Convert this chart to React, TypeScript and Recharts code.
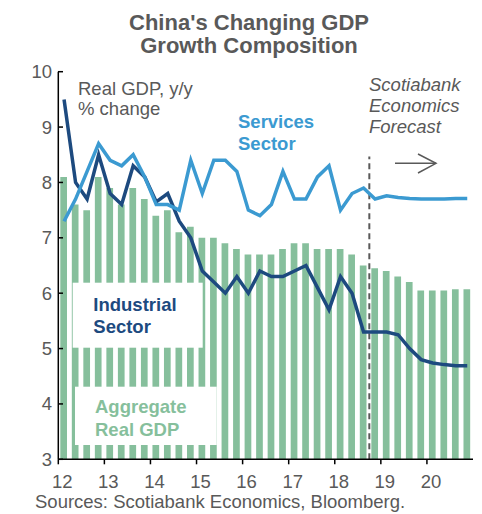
// China's changing GDP growth composition - bars for aggregate real GDP,
// lines for industrial and services sectors (quarterly, y/y % change)

import { ComposedChart, Bar, Line, XAxis, YAxis, ReferenceLine } from 'recharts';

const quarters = [
  '2012Q1', '2012Q2', '2012Q3', '2012Q4', '2013Q1', '2013Q2', '2013Q3', '2013Q4',
  '2014Q1', '2014Q2', '2014Q3', '2014Q4', '2015Q1', '2015Q2', '2015Q3', '2015Q4',
  '2016Q1', '2016Q2', '2016Q3', '2016Q4', '2017Q1', '2017Q2', '2017Q3', '2017Q4',
  '2018Q1', '2018Q2', '2018Q3', '2018Q4', '2019Q1', '2019Q2', '2019Q3', '2019Q4',
  '2020Q1', '2020Q2', '2020Q3', '2020Q4',
];

const realGdp = [
  8.1, 7.6, 7.5, 8.1, 7.9, 7.6, 7.9, 7.7,
  7.4, 7.5, 7.1, 7.2, 7.0, 7.0, 6.9, 6.8,
  6.7, 6.7, 6.7, 6.8, 6.9, 6.9, 6.8, 6.8,
  6.8, 6.7, 6.5, 6.45, 6.4, 6.3, 6.2, 6.05,
  6.05, 6.05, 6.07, 6.07,
];

const industrial = [
  9.5, 8.0, 7.7, 8.5, 7.8, 7.6, 8.3, 8.1,
  7.65, 7.8, 7.3, 7.0, 6.4, 6.2, 6.0, 6.3,
  6.0, 6.4, 6.3, 6.3, 6.4, 6.5, 6.1, 5.7,
  6.3, 6.0, 5.3, 5.3, 5.3, 5.25, 5.0, 4.8,
  4.74, 4.71, 4.69, 4.69,
];

const services = [
  7.3, 7.7, 8.2, 8.7, 8.4, 8.3, 8.5, 8.1,
  7.6, 7.6, 7.5, 8.4, 7.8, 8.4, 8.4, 8.2,
  7.5, 7.4, 7.6, 8.2, 7.7, 7.7, 8.1, 8.3,
  7.5, 7.8, 7.9, 7.7, 7.76, 7.73, 7.71, 7.7,
  7.7, 7.7, 7.71, 7.71,
];

const yearLabels = ['12', '13', '14', '15', '16', '17', '18', '19', '20'];
const yTicks = [3, 4, 5, 6, 7, 8, 9, 10];

// forecast begins after 2018Q3
const forecastStart = 26.5;

const chartData = quarters.map((q, i) => ({
  q,
  i,
  gdp: realGdp[i],
  industrial: industrial[i],
  services: services[i],
}));

// year ticks sit on the boundary before each Q1
const xTicks = yearLabels.map((_, k) => k * 4 - 0.5);

const FONT = '"Liberation Sans", Arial, sans-serif';
const GRAY = '#595959';
const GREEN = '#86BF9C';
const NAVY = '#1D4A7F';
const LIGHT = '#3B9AD1';

const XTick = (props: any) => {
  const { x, payload } = props;
  const k = Math.round((payload.value + 0.5) / 4);
  return (
    <text x={x + 4} y={488} textAnchor="middle" fontSize={18.5} fill={GRAY} fontFamily={FONT}>
      {yearLabels[k]}
    </text>
  );
};

const YTick = (props: any) => {
  const { y, payload } = props;
  return (
    <g>
      <line x1={58} x2={63} y1={y} y2={y} stroke="#000" strokeWidth={1.5} />
      <text x={52} y={y} dy={6.5} textAnchor="end" fontSize={18.5} fill={GRAY} fontFamily={FONT}>
        {payload.value}
      </text>
    </g>
  );
};

export default function App() {
  return (
    <div style={{ position: 'absolute', left: 0, top: 0, width: 482, height: 514, background: '#fff', fontFamily: FONT }}>
      <ComposedChart
        width={482}
        height={514}
        data={chartData}
        margin={{ top: 71.7, right: 9, bottom: 24.7, left: 0 }}
      >
        <XAxis
          dataKey="i"
          type="number"
          domain={[-0.5, 35.5]}
          ticks={xTicks}
          interval={0}
          height={30}
          tickSize={5}
          axisLine={{ stroke: '#000', strokeWidth: 1.5 }}
          tickLine={{ stroke: '#000', strokeWidth: 1.5 }}
          tick={<XTick />}
        />
        <YAxis
          type="number"
          domain={[3, 10]}
          ticks={yTicks}
          interval={0}
          width={58.3}
          tickLine={false}
          axisLine={{ stroke: '#000', strokeWidth: 1.5 }}
          tick={<YTick />}
        />
        <Bar dataKey="gdp" fill={GREEN} barSize={6.7} isAnimationActive={false} />
        <ReferenceLine
          segment={[{ x: forecastStart, y: 3 }, { x: forecastStart, y: 8.47 }]}
          stroke={GRAY}
          strokeWidth={2}
          strokeDasharray="6 4"
        />
        <Line
          dataKey="industrial"
          stroke={NAVY}
          strokeWidth={3.5}
          dot={false}
          type="linear"
          isAnimationActive={false}
        />
        <Line
          dataKey="services"
          stroke={LIGHT}
          strokeWidth={3.5}
          dot={false}
          type="linear"
          isAnimationActive={false}
        />
      </ComposedChart>

      <svg
        width={482}
        height={514}
        style={{ position: 'absolute', left: 0, top: 0, pointerEvents: 'none' }}
        fontFamily={FONT}
      >
        <text x={249} y={29.5} textAnchor="middle" fontSize={22} fontWeight="bold" fill={GRAY}>
          China's Changing GDP
        </text>
        <text x={249} y={52.5} textAnchor="middle" fontSize={22} fontWeight="bold" fill={GRAY}>
          Growth Composition
        </text>

        <text x={78} y={94.5} fontSize={18.5} fill={GRAY}>Real GDP, y/y</text>
        <text x={78} y={115} fontSize={18.5} fill={GRAY}>% change</text>

        <text x={238} y={127.6} fontSize={18.5} fontWeight="bold" fill={LIGHT}>Services</text>
        <text x={238} y={149.6} fontSize={18.5} fontWeight="bold" fill={LIGHT}>Sector</text>

        <text x={369} y={90.6} fontSize={18.5} fontStyle="italic" fill={GRAY}>Scotiabank</text>
        <text x={369} y={111.6} fontSize={18.5} fontStyle="italic" fill={GRAY}>Economics</text>
        <text x={369} y={132.6} fontSize={18.5} fontStyle="italic" fill={GRAY}>Forecast</text>

        <line x1={395} x2={436} y1={163.3} y2={163.3} stroke={GRAY} strokeWidth={1.5} />
        <polyline points="418,154 436,163.3 418,173" fill="none" stroke={GRAY} strokeWidth={1.5} />

        <rect x={72.7} y={282.7} width={130} height={65} fill="#fff" />
        <text x={93.3} y={310.7} fontSize={18.5} fontWeight="bold" fill={NAVY}>Industrial</text>
        <text x={93.3} y={332.7} fontSize={18.5} fontWeight="bold" fill={NAVY}>Sector</text>

        <rect x={75} y={386.7} width={141.7} height={58.3} fill="#fff" />
        <text x={95} y={413.3} fontSize={18.5} fontWeight="bold" fill={GREEN}>Aggregate</text>
        <text x={95} y={435.7} fontSize={18.5} fontWeight="bold" fill={GREEN}>Real GDP</text>

        <text x={35} y={508} fontSize={18.5} fill={GRAY}>Sources: Scotiabank Economics, Bloomberg.</text>
      </svg>
    </div>
  );
}
